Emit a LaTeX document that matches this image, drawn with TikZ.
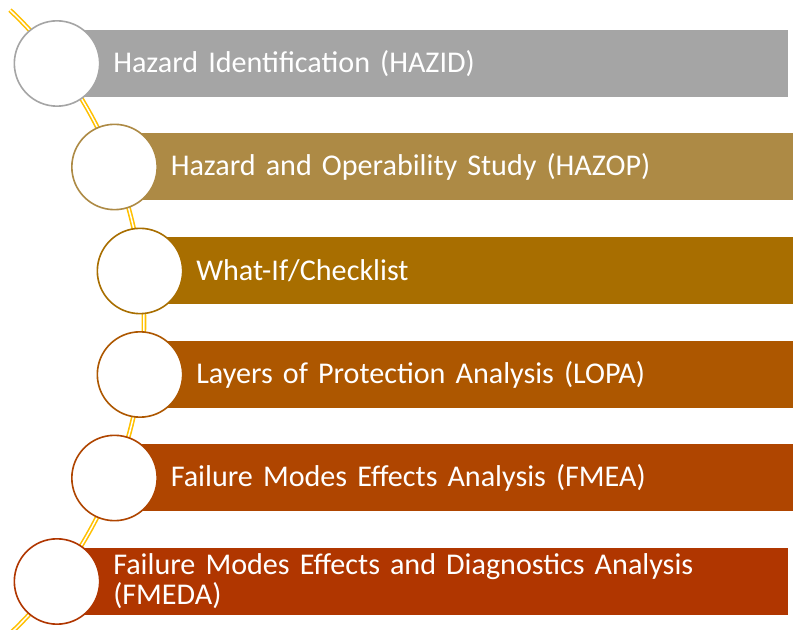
\documentclass[tikz,border=0pt]{standalone}
\usepackage{fontspec}
\setmainfont{Carlito}
\definecolor{cA}{HTML}{A5A5A5}
\definecolor{cB}{HTML}{AD8A45}
\definecolor{cC}{HTML}{A86E00}
\definecolor{cD}{HTML}{AD5700}
\definecolor{cE}{HTML}{AF4500}
\definecolor{cF}{HTML}{B03600}
\definecolor{gold}{HTML}{FFC000}
\begin{document}
\begin{tikzpicture}[x=0.75pt,y=-0.75pt,
  bar/.style={fill=#1, draw=none, anchor=west, minimum height=50.25pt,
    minimum width=0pt, inner xsep=42pt, inner ysep=0pt, text width=464.25pt,
    align=left, text=white, font=\fontsize{22.6}{27}\selectfont},
  ring/.style={circle, fill=white, draw=#1, line width=1.2pt, minimum size=64pt, inner sep=0pt},
  spine/.style={draw=gold, line width=1.2pt, double=white, double distance=1.1pt}]
\useasboundingbox (0,0) rectangle (793,630);
% spine curve
\draw[spine] plot[domain=-46.5:47, samples=80, smooth] ({-286+430*cos(\x)},{322+430*sin(\x)});
% bars
\node[bar=cA] (b1) at (57,63.5) {Hazard Identification (HAZID)};
\node[bar=cB] (b2) at (114.5,167) {Hazard and Operability Study (HAZOP)};
\node[bar=cC] (b3) at (140,271) {What-If/Checklist};
\node[bar=cD] (b4) at (140,374.5) {Layers of Protection Analysis (LOPA)};
\node[bar=cE] (b5) at (114.5,478) {Failure Modes Effects Analysis (FMEA)};
\node[bar=cF, font=\fontsize{22.6}{22.5}\selectfont] (b6) at (57,581.5) {Failure Modes Effects and Diagnostics Analysis\\(FMEDA)};
% circles
\node[ring=cA] (c1) at (57,63.5) {};
\node[ring=cB] (c2) at (114.5,167) {};
\node[ring=cC] (c3) at (140,271) {};
\node[ring=cD] (c4) at (140,374.5) {};
\node[ring=cE] (c5) at (114.5,478) {};
\node[ring=cF] (c6) at (57,581.5) {};
\end{tikzpicture}
\end{document}
